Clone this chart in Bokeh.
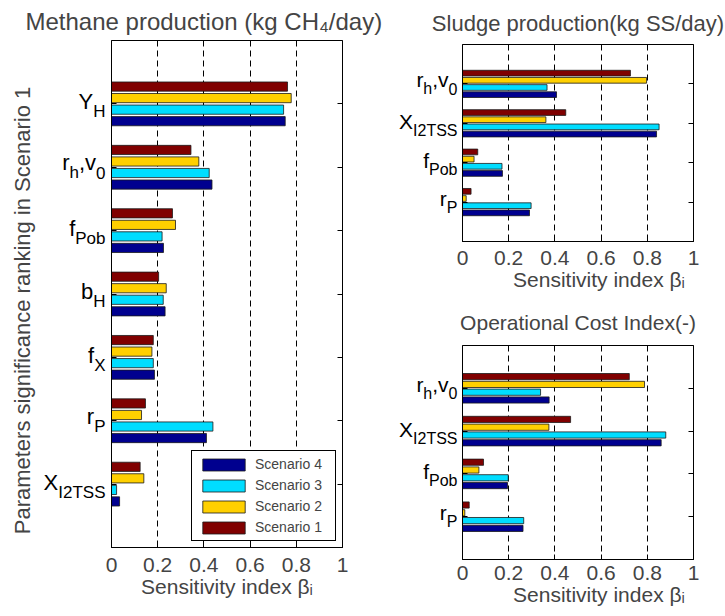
from bokeh.plotting import figure
from bokeh.models import (Range1d, FixedTicker, CustomJSTickFormatter, LinearAxis,
                          Legend, LegendItem, ColumnDataSource)
from bokeh.core.properties import value
from bokeh.layouts import row, column
from bokeh.embed import file_html
from bokeh.resources import INLINE

# ---------------- data ----------------
scenarios = ["Scenario 1", "Scenario 2", "Scenario 3", "Scenario 4"]
x_ticks = [0, 0.2, 0.4, 0.6, 0.8, 1.0]

methane_params = ["Y_H", "r_h,v_0", "f_Pob", "b_H", "f_X", "r_P", "X_I2TSS"]
methane_s1 = [0.762, 0.344, 0.264, 0.204, 0.181, 0.147, 0.124]
methane_s2 = [0.778, 0.378, 0.277, 0.237, 0.175, 0.130, 0.140]
methane_s3 = [0.745, 0.423, 0.219, 0.224, 0.181, 0.439, 0.022]
methane_s4 = [0.752, 0.435, 0.225, 0.232, 0.186, 0.411, 0.035]

sludge_params = ["r_h,v_0", "X_I2TSS", "f_Pob", "r_P"]
sludge_s1 = [0.727, 0.447, 0.066, 0.037]
sludge_s2 = [0.797, 0.361, 0.050, 0.016]
sludge_s3 = [0.366, 0.851, 0.171, 0.297]
sludge_s4 = [0.407, 0.840, 0.173, 0.290]

cost_params = ["r_h,v_0", "X_I2TSS", "f_Pob", "r_P"]
cost_s1 = [0.722, 0.468, 0.091, 0.029]
cost_s2 = [0.788, 0.374, 0.071, 0.010]
cost_s3 = [0.338, 0.880, 0.198, 0.265]
cost_s4 = [0.375, 0.860, 0.195, 0.262]

# ---------------- style ----------------
FONT = "Liberation Sans"
COLORS = ["#800000", "#FFD000", "#00DDFF", "#00008F"]
OFFSETS = [-0.273, -0.091, 0.091, 0.273]
BAR_H = 0.145
WIDTHS = {' ': 278, ',': 278, 'H': 722, 'I': 278, 'P': 667, 'S': 667, 'T': 611,
          'X': 667, 'Y': 667, 'b': 556, 'f': 278, 'h': 556, 'o': 556, 'r': 333,
          'v': 500}
TALL = set("ABCDEFGHIJKLMNOPQRSTUVWXYZbdfhklt0123456789")


def text_w(s, size):
    return sum(WIDTHS.get(c, 556) for c in s) * size / 1000.0


def parse(name):
    pieces = []
    cur, sub = "", False
    for c in name:
        if c == "_":
            if cur:
                pieces.append((cur, sub))
            cur, sub = "", True
        elif c == "," and sub:
            pieces.append((cur, True))
            cur, sub = ",", False
        else:
            cur += c
    if cur:
        pieces.append((cur, sub))
    return pieces


def make_fig(title, params, series, frame_w, frame_h, mb, title_size, title_standoff,
             tick_size, tick_standoff, xlab_size, lab_main, lab_sub, lab_gap,
             base_corr, sub_drop, ylabel=None, legend=False, title_offset=None,
             xlabel_pad=""):
    n = len(params)
    p = figure(frame_width=frame_w, frame_height=frame_h,
               x_range=Range1d(0, 1), y_range=Range1d(n + 1, 0),
               output_backend="svg", toolbar_location=None,
               min_border_left=mb[0], min_border_right=mb[1],
               min_border_top=mb[2], min_border_bottom=mb[3],
               background_fill_color="white", border_fill_color="white")
    p.title.text = title
    p.title.text_font = FONT
    p.title.text_font_size = f"{title_size}px"
    p.title.text_font_style = "normal"
    if title_offset is None:
        p.title.align = "center"
    else:
        p.title.align = "left"
        p.title.offset = title_offset
    p.title.standoff = title_standoff
    p.outline_line_color = "black"
    p.outline_line_alpha = 1.0

    xa = p.below[0]
    xa.ticker = FixedTicker(ticks=x_ticks)
    xa.formatter = CustomJSTickFormatter(
        code="return (Math.abs(tick) < 1e-9 || Math.abs(tick-1) < 1e-9) ? tick.toFixed(0) : tick.toFixed(1);")
    xa.major_label_text_font = FONT
    xa.major_label_text_font_size = f"{tick_size}px"
    xa.major_label_standoff = tick_standoff
    xa.major_tick_in = 5
    xa.major_tick_out = 0
    xa.minor_tick_line_color = None
    xa.axis_line_color = "black"
    xa.axis_label = xlabel_pad + "Sensitivity index \u03b2\u1d62"
    xa.axis_label_text_font = FONT
    xa.axis_label_text_font_size = f"{xlab_size}px"
    xa.axis_label_text_font_style = "normal"
    xa.axis_label_standoff = 0

    ticks = list(range(1, n + 1))
    ya = p.left[0]
    ya.ticker = FixedTicker(ticks=ticks)
    ya.formatter = CustomJSTickFormatter(code="return '';")
    ya.major_tick_in = 5
    ya.major_tick_out = 0
    ya.minor_tick_line_color = None
    ya.major_label_standoff = 0
    ya.axis_line_color = "black"
    if ylabel:
        ya.axis_label = ylabel + "\u2002\u2002\u2002"
        ya.axis_label_text_font = FONT
        ya.axis_label_text_font_size = "22px"
        ya.axis_label_text_font_style = "normal"
        ya.axis_label_standoff = 77

    ra = LinearAxis(ticker=FixedTicker(ticks=ticks),
                    formatter=CustomJSTickFormatter(code="return '';"),
                    major_tick_in=5, major_tick_out=0, minor_tick_line_color=None,
                    major_label_standoff=0, axis_line_color="black")
    p.add_layout(ra, "right")

    p.xgrid.ticker = FixedTicker(ticks=[0.2, 0.4, 0.6, 0.8])
    p.xgrid.grid_line_color = "black"
    p.xgrid.grid_line_dash = "6 4"
    p.xgrid.grid_line_width = 1
    p.ygrid.visible = False

    renderers = []
    for s, vals in enumerate(series):
        src = ColumnDataSource(dict(y=[i + 1 + OFFSETS[s] for i in range(n)], right=vals))
        r = p.hbar(y="y", left=0, right="right", height=BAR_H, source=src,
                   fill_color=COLORS[s], line_color="#1a1a1a", line_width=0.8)
        renderers.append(r)

    # category tick labels with subscripts (text glyphs drawn at overlay level)
    for size, is_sub in ((lab_main, False), (lab_sub, True)):
        xs, ys, txt, xo, yo = [], [], [], [], []
        for i, name in enumerate(params):
            pieces = parse(name)
            total = sum(text_w(t, lab_sub if sb else lab_main) for t, sb in pieces)
            main_chars = "".join(t for t, sb in pieces if not sb)
            top_h = (0.716 if any(c in TALL for c in main_chars) else 0.519) * lab_main
            base = (top_h - sub_drop) / 2.0 + base_corr
            cur = -lab_gap - total
            for t, sb in pieces:
                sz = lab_sub if sb else lab_main
                if sb == is_sub:
                    xs.append(0)
                    ys.append(i + 1)
                    txt.append(t)
                    xo.append(cur)
                    yo.append(base + (sub_drop if sb else 0))
                cur += text_w(t, sz)
        src = ColumnDataSource(dict(x=xs, y=ys, text=txt, xo=xo, yo=yo))
        p.text(x="x", y="y", text="text", x_offset="xo", y_offset="yo", source=src,
               text_font=value(FONT), text_font_size=value(f"{size}px"),
               text_align="left", text_baseline="alphabetic", text_color="black",
               level="overlay")

    if legend:
        items = [LegendItem(label=scenarios[s], renderers=[renderers[s]]) for s in [3, 2, 1, 0]]
        lg = Legend(items=items, location="bottom_right", glyph_width=53, glyph_height=15,
                    label_height=15, label_width=75, label_standoff=5, padding=5, spacing=5,
                    margin=6, border_line_color="black", border_line_width=1,
                    border_line_alpha=1, label_text_font=FONT, label_text_font_size="14px",
                    background_fill_color="white", background_fill_alpha=1.0)
        p.add_layout(lg)
    return p


left = make_fig("Methane production (kg CH\u2084/day)", methane_params,
                [methane_s1, methane_s2, methane_s3, methane_s4],
                231, 507, (111, 48, 40, 68), 24, 11, 21, 10, 21, 22, 17, 6, -5, 10,
                ylabel="Parameters significance ranking in Scenario 1", legend=True,
                title_offset=-86)

top_right = make_fig("Sludge production(kg SS/day)", sludge_params,
                     [sludge_s1, sludge_s2, sludge_s3, sludge_s4],
                     231, 197, (72, 31, 43, 56), 22, 17, 21, 9, 21, 21, 16, 5, -5, 9,
                     xlabel_pad="\u2002\u2002\u2002\u2002")

bottom_right = make_fig("Operational Cost Index(-)", cost_params,
                        [cost_s1, cost_s2, cost_s3, cost_s4],
                        231, 214, (72, 31, 47, 58), 21, 23, 21, 6, 21, 21, 16, 5, -5, 9,
                        xlabel_pad="\u2002\u2002\u2002\u2002")

layout = row(left, column(top_right, bottom_right))

open("out.html", "w").write(file_html(layout, INLINE))
